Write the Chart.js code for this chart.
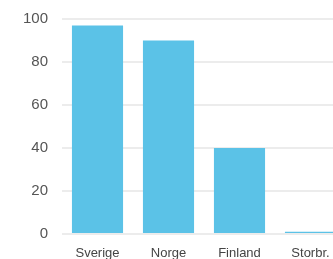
<!DOCTYPE html>
<html>
<head>
<meta charset="utf-8">
<script src="https://cdn.jsdelivr.net/npm/chart.js@4"></script>
<style>
  html, body { margin: 0; padding: 0; background: #fff; overflow: hidden; }
  #wrap { position: absolute; left: 0; top: -4px; width: 346px; height: 266px; }
</style>
</head>
<body>
<div id="wrap"><canvas id="chart"></canvas></div>
<script>
const countries = ['Sverige', 'Norge', 'Finland', 'Storbr.'];
const values = [97, 90, 40, 1];
const yTicks = [0, 20, 40, 60, 80, 100];

const ctx = document.getElementById('chart').getContext('2d');
new Chart(ctx, {
    type: 'bar',
    data: {
        labels: countries,
        datasets: [
            {
                data: values,
                backgroundColor: '#5bc2e7',
                borderWidth: 0
            }
        ]
    },
    options: {
        responsive: true,
        maintainAspectRatio: false,
        animation: false,
        layout: { padding: { top: 6, right: 0, left: 0, bottom: 0 } },
        scales: {
            x: {
                grid: { display: false },
                border: { display: false },
                ticks: {
                    color: '#444',
                    padding: 4,
                    font: { family: 'Liberation Sans', size: 13 }
                },
                afterFit: scale => { scale.height = 28; }
            },
            y: {
                min: 0,
                max: 100,
                afterBuildTicks: scale => {
                    scale.ticks = yTicks.map(v => ({ value: v }));
                },
                grid: { color: '#ececec', lineWidth: 2, drawTicks: false },
                border: { display: false },
                ticks: {
                    color: '#555',
                    padding: 14,
                    font: { family: 'Liberation Sans', size: 15 }
                },
                afterFit: scale => { scale.width = 62; }
            }
        },
        plugins: {
            legend: { display: false },
            tooltip: { enabled: false }
        }
    }
});
</script>
</body>
</html>
